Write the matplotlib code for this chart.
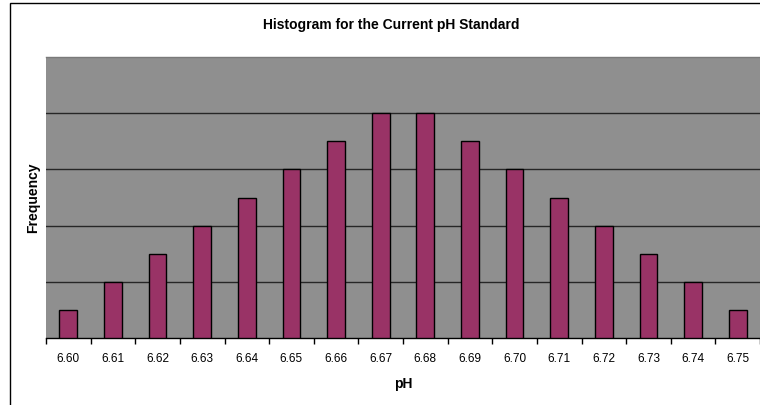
import numpy as np
import matplotlib
matplotlib.use('Agg')
import matplotlib.pyplot as plt
from matplotlib.patches import Rectangle

# data
ph_labels = ['6.60', '6.61', '6.62', '6.63', '6.64', '6.65', '6.66', '6.67',
             '6.68', '6.69', '6.70', '6.71', '6.72', '6.73', '6.74', '6.75']
frequency = [1, 2, 3, 4, 5, 6, 7, 8, 8, 7, 6, 5, 4, 3, 2, 1]

plt.rcParams['font.family'] = ['Liberation Sans', 'DejaVu Sans']

fig = plt.figure(figsize=(7.6, 4.05), dpi=100)
ax = fig.add_axes([46/760, 1 - 338/405, 714/760, (338 - 57)/405])

x = np.arange(len(frequency))
ax.set_facecolor('#8f8f8f')
ax.bar(x, frequency, width=0.4, color='#993366', edgecolor='black', linewidth=1.0, zorder=3)

ax.set_xlim(-0.5, len(frequency) - 0.5)
ax.set_ylim(0, 10)

# gridlines
for yv in [2, 4, 6, 8]:
    ax.axhline(yv, color='#262626', linewidth=1.0, zorder=1)

ax.set_yticks([])
ax.set_xticks(x)
ax.set_xticklabels(ph_labels, fontsize=8.5)
ax.set_xticks(np.arange(-0.5, len(frequency)), minor=True)
ax.tick_params(axis='x', which='major', length=0, pad=11)
ax.tick_params(axis='x', which='minor', length=4, width=1, color='black', direction='out')

for s in ['left', 'right']:
    ax.spines[s].set_visible(False)
ax.spines['top'].set_color('#7a7a7a')
ax.spines['top'].set_linewidth(1.0)
ax.spines['bottom'].set_color('black')
ax.spines['bottom'].set_linewidth(1.0)

ax.set_xlabel('pH', fontsize=10, fontweight='bold', labelpad=8.5)
ax.set_ylabel('Frequency', fontsize=10, fontweight='bold', labelpad=4)
fig.text(391/760, 1 - 25/405, 'Histogram for the Current pH Standard',
         ha='center', va='center', fontsize=10, fontweight='bold')

# outer chart border (cut off at right and bottom)
fig.patches.append(Rectangle((9.5/760, -0.1), 1.2, 1 - 3.5/405 + 0.1, transform=fig.transFigure,
                             fill=False, edgecolor='black', linewidth=1.0))

fig.savefig('out.png', dpi=100)
